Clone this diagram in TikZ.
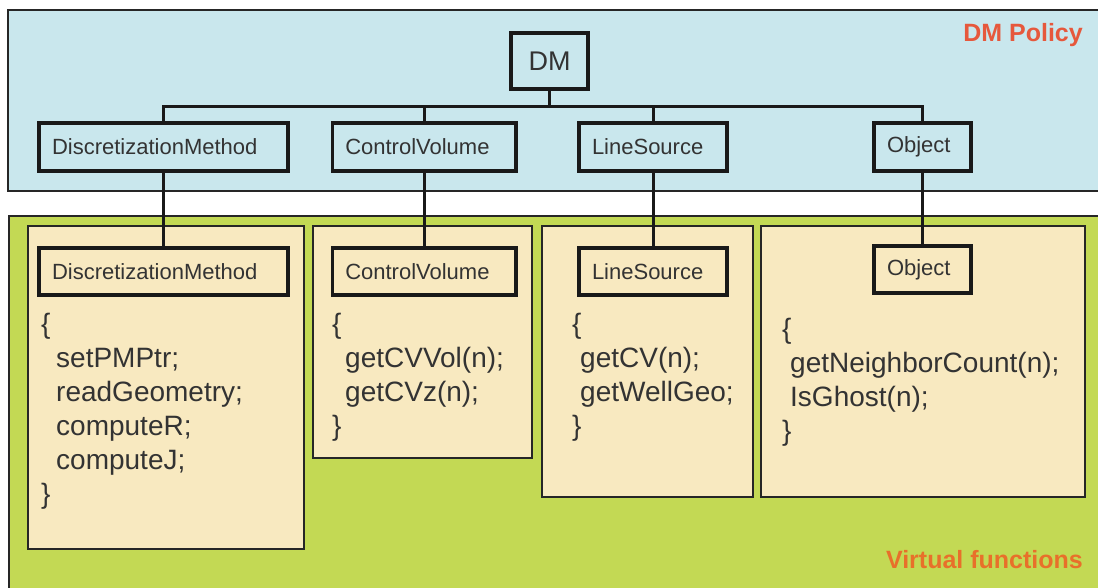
\documentclass[tikz,border=0pt]{standalone}
\usepackage{fontspec}
\setmainfont{Liberation Sans}
\usetikzlibrary{shadows}
\usepackage{xcolor}

\definecolor{policyblue}{RGB}{201,231,237}
\definecolor{virtgreen}{RGB}{195,217,84}
\definecolor{codebeige}{RGB}{248,233,192}
\definecolor{labelred}{RGB}{230,88,60}
\definecolor{labelorange}{RGB}{232,112,42}

\tikzset{%
	panel/.style={
		draw=black!85,
		line width=2.5pt
	},
	classbox/.style={
		draw=black!90,
		fill=policyblue,
		line width=3.5pt,
		inner xsep=13pt,
		inner ysep=0pt,
		minimum height=48pt,
		align=left,
		text=black!80,
		font=\fontsize{22}{26}\selectfont,
		drop shadow={shadow xshift=2pt, shadow yshift=-2pt, opacity=0.3}
	},
	wire/.style={
		draw=black!90,
		line width=3pt
	},
	code/.style={
		anchor=north west,
		inner sep=0pt,
		align=left,
		text=black!80,
		font=\fontsize{28}{34}\selectfont
	},
	tag/.style={
		anchor=base east,
		inner sep=0pt,
		font=\fontsize{25}{30}\selectfont\bfseries
	},
}

\begin{document}
\begin{tikzpicture}[x=1pt, y=-1pt]
	\useasboundingbox (0,0) rectangle (1098,588);
	\clip (0,0) rectangle (1098,588);
	
	% Two layers
	\draw[panel, fill=policyblue] (8,10) rectangle (1110,191);
	\draw[panel, fill=virtgreen] (9,216) rectangle (1110,600);
	
	% Function blocks
	\draw[panel, fill=codebeige] (28,226) rectangle (304,549);
	\draw[panel, fill=codebeige] (313,226) rectangle (532,458);
	\draw[panel, fill=codebeige] (542,226) rectangle (753,497);
	\draw[panel, fill=codebeige] (761,226) rectangle (1085,497);
	
	\node[tag, text=labelred] (policy) at (1083,42) {DM Policy};
	\node[tag, text=labelorange] (virtual) at (1083,568) {Virtual functions};
	
	% Class boxes
	\node[classbox, align=center, inner xsep=0pt, minimum width=77pt, minimum height=56pt, font=\fontsize{27}{32}\selectfont] (dm) at (549.5,61) {DM};
	
	\node[classbox, text width=223pt] (topDisc) at (163.5,147) {DiscretizationMethod};
	\node[classbox, text width=157.5pt] (topCV) at (424,147) {ControlVolume};
	\node[classbox, text width=122pt] (topLS) at (653,147) {LineSource};
	\node[classbox, text width=71pt] (topObj) at (922.5,147) {Object};
	
	\node[classbox, fill=codebeige, minimum height=47pt, text width=223pt] (inDisc) at (163.5,271.5) {DiscretizationMethod};
	\node[classbox, fill=codebeige, minimum height=47pt, text width=157.5pt] (inCV) at (424,271.5) {ControlVolume};
	\node[classbox, fill=codebeige, minimum height=47pt, text width=122pt] (inLS) at (653,271.5) {LineSource};
	\node[classbox, fill=codebeige, minimum height=47pt, text width=71pt] (inObj) at (922.5,269.5) {Object};
	
	% Hierarchy lines
	\coordinate (bus) at (549.5,107);
	\draw[wire] (dm.south) -- (bus);
	\draw[wire] (topDisc.north) |- (topObj.north |- bus) -- (topObj.north);
	\foreach \n in {CV,LS}
		\draw[wire] (top\n.north) -- (top\n.north |- bus);
	\foreach \n in {Disc,CV,LS,Obj}
		\draw[wire] (top\n.south) -- (in\n.north);
	
	% Member functions
	\node[code] (codeDisc) at (41,313) {\{\\\hspace*{15pt}setPMPtr;\\\hspace*{15pt}readGeometry;\\\hspace*{15pt}computeR;\\\hspace*{15pt}computeJ;\\\}};
	\node[code] (codeCV) at (332,313) {\{\\\hspace*{13pt}getCVVol(n);\\\hspace*{13pt}getCVz(n);\\\}};
	\node[code] (codeLS) at (572,313) {\{\\\hspace*{8pt}getCV(n);\\\hspace*{8pt}getWellGeo;\\\}};
	\node[code] (codeObj) at (782,318) {\{\\\hspace*{8pt}getNeighborCount(n);\\\hspace*{8pt}IsGhost(n);\\\}};
\end{tikzpicture}
\end{document}
